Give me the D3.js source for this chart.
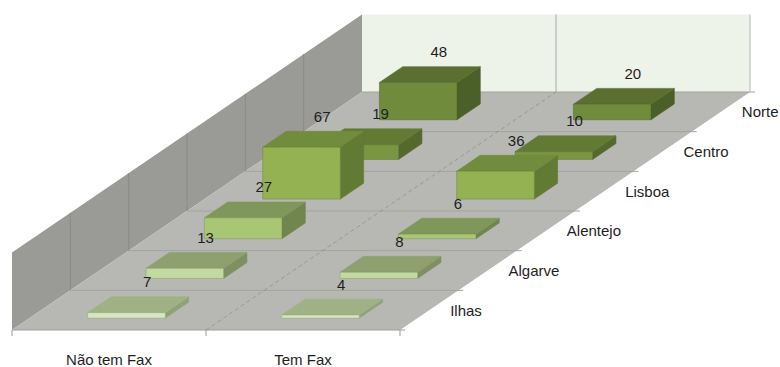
<!DOCTYPE html>
<html>
<head>
<meta charset="utf-8">
<script src="https://cdn.jsdelivr.net/npm/d3@7"></script>
<style>
  body { margin: 0; background: #fff; }
  text { font-family: "Liberation Sans", Arial, sans-serif; fill: #1e1e1e; }
</style>
</head>
<body>
<svg id="chart" width="780" height="367"></svg>
<script>
// Categories across the floor (front edge) and regions along the depth axis (front to back)
const columns = ["Não tem Fax", "Tem Fax"];
const regions = ["Ilhas", "Algarve", "Alentejo", "Lisboa", "Centro", "Norte"];

// Values per region, same order as `regions`
const naoTemFax = [7, 13, 27, 67, 19, 48];
const temFax    = [4, 8, 6, 36, 10, 20];

const valueDomain = [0, 100];

// Shades per region: front face, top face, right side face
const regionFront = ["#d6e6c2", "#c3d9a2", "#a9c674", "#94b251", "#7a9641", "#718b3d"];
const regionTop   = ["#a0b285", "#8fa070", "#7f975a", "#728c3d", "#637a35", "#5b7030"];
const regionSide  = ["#8fa276", "#7e9062", "#70864e", "#617a34", "#55692c", "#4b5f29"];

const svg = d3.select("#chart");

// Oblique 3D frame: front-left floor corner, floor width, depth vector, wall height
const origin = { x: 12, y: 330 };
const floorWidth = 388;
const depthVec = { x: 350, y: -238 };
const wallHeight = 77.5;

const colScale = d3.scaleBand().domain(columns).range([0, floorWidth]);
const barX = d3.scaleBand().domain(columns).range([0, floorWidth]).paddingInner(0.6).paddingOuter(0.3);
const slotScale = d3.scaleBand().domain(regions).range([0, 1]);
const barZ = d3.scaleBand().domain(regions).range([0, 1]).paddingInner(0.6).paddingOuter(0.3);
const hScale = d3.scaleLinear().domain(valueDomain).range([0, wallHeight]);

function proj(x, z, h) {
  return [origin.x + x + z * depthVec.x, origin.y + z * depthVec.y - h];
}
function poly(pts) {
  return pts.map(p => proj(p[0], p[1], p[2]).join(",")).join(" ");
}

// ---- Walls and floor ----
const frame = svg.append("g");

// back wall
frame.append("polygon")
  .attr("points", poly([[0, 1, 0], [floorWidth, 1, 0], [floorWidth, 1, wallHeight], [0, 1, wallHeight]]))
  .attr("fill", "#eef3e9");
// side wall
frame.append("polygon")
  .attr("points", poly([[0, 0, 0], [0, 1, 0], [0, 1, wallHeight], [0, 0, wallHeight]]))
  .attr("fill", "#9a9b97");
// floor
frame.append("polygon")
  .attr("points", poly([[0, 0, 0], [floorWidth, 0, 0], [floorWidth, 1, 0], [0, 1, 0]]))
  .attr("fill", "#b7b8b4");

// slot boundaries on the side wall and floor
const slotEdges = d3.range(0, regions.length + 1).map(i => i / regions.length);
slotEdges.forEach((z, i) => {
  if (i > 0 && i < regions.length) {
    const a = proj(0, z, 0), b = proj(0, z, wallHeight);
    frame.append("line").attr("x1", a[0]).attr("y1", a[1]).attr("x2", b[0]).attr("y2", b[1])
      .attr("stroke", "#8a8b87").attr("stroke-width", 1);
  }
  const a = proj(0, z, 0), b = proj(floorWidth, z, 0);
  frame.append("line").attr("x1", a[0]).attr("y1", a[1]).attr("x2", b[0] + 5).attr("y2", b[1])
    .attr("stroke", i === 0 ? "#9c9d99" : "#a2a39f").attr("stroke-width", 1);
});

// column boundaries: dashed line on the floor, solid line on the back wall
columns.slice(1).forEach(c => {
  const x = colScale(c);
  const a = proj(x, 0, 0), b = proj(x, 1, 0), t = proj(x, 1, wallHeight);
  frame.append("line").attr("x1", a[0]).attr("y1", a[1]).attr("x2", b[0]).attr("y2", b[1])
    .attr("stroke", "#8f908c").attr("stroke-width", 0.8).attr("stroke-dasharray", "4,3");
  frame.append("line").attr("x1", b[0]).attr("y1", b[1]).attr("x2", t[0]).attr("y2", t[1])
    .attr("stroke", "#a9aaa6").attr("stroke-width", 1);
});
// back wall right edge
{
  const b = proj(floorWidth, 1, 0), t = proj(floorWidth, 1, wallHeight);
  frame.append("line").attr("x1", b[0]).attr("y1", b[1]).attr("x2", t[0]).attr("y2", t[1])
    .attr("stroke", "#b9bab6").attr("stroke-width", 1);
}

// category ticks on the front edge
const tickXs = columns.map(c => colScale(c)).concat([floorWidth]);
tickXs.forEach(x => {
  const a = proj(x, 0, 0);
  frame.append("line").attr("x1", a[0]).attr("y1", a[1]).attr("x2", a[0]).attr("y2", a[1] + 6)
    .attr("stroke", "#9c9d99").attr("stroke-width", 1);
});

// ---- Bars (drawn back to front) ----
const bars = [];
regions.forEach((r, i) => {
  bars.push({ col: columns[0], region: r, ri: i, value: naoTemFax[i] });
  bars.push({ col: columns[1], region: r, ri: i, value: temFax[i] });
});
bars.sort((a, b) => b.ri - a.ri);

const barG = svg.append("g");
bars.forEach(d => {
  const x0 = barX(d.col), x1 = x0 + barX.bandwidth();
  const z0 = barZ(d.region), z1 = z0 + barZ.bandwidth();
  const h = hScale(d.value);
  const g = barG.append("g");
  g.append("polygon")
    .attr("points", poly([[x1, z0, 0], [x1, z1, 0], [x1, z1, h], [x1, z0, h]]))
    .attr("fill", regionSide[d.ri]).attr("stroke", regionSide[d.ri]).attr("stroke-width", 0.6);
  g.append("polygon")
    .attr("points", poly([[x0, z0, h], [x1, z0, h], [x1, z1, h], [x0, z1, h]]))
    .attr("fill", regionTop[d.ri]).attr("stroke", regionTop[d.ri]).attr("stroke-width", 0.6);
  g.append("polygon")
    .attr("points", poly([[x0, z0, 0], [x1, z0, 0], [x1, z0, h], [x0, z0, h]]))
    .attr("fill", regionFront[d.ri]).attr("stroke", regionSide[d.ri]).attr("stroke-width", 0.6)
    .attr("stroke-opacity", 0.7);
});

// ---- Data labels ----
const labelG = svg.append("g");
bars.forEach(d => {
  const cx = barX(d.col) + barX.bandwidth() / 2;
  const cz = barZ(d.region) + barZ.bandwidth() / 2;
  const p = proj(cx, cz, hScale(d.value));
  labelG.append("text")
    .attr("x", p[0] + 9).attr("y", p[1] - 23)
    .attr("text-anchor", "middle").attr("dominant-baseline", "central")
    .attr("font-size", 15)
    .text(d.value);
});

// ---- Axis labels ----
columns.forEach(c => {
  const p = proj(colScale(c) + colScale.bandwidth() / 2, 0, 0);
  svg.append("text")
    .attr("x", p[0]).attr("y", p[1] + 29)
    .attr("text-anchor", "middle").attr("dominant-baseline", "central")
    .attr("font-size", 15)
    .text(c);
});
regions.forEach(r => {
  const p = proj(floorWidth, slotScale(r) + slotScale.bandwidth() / 2, 0);
  svg.append("text")
    .attr("x", p[0] + 21).attr("y", p[1])
    .attr("text-anchor", "start").attr("dominant-baseline", "central")
    .attr("font-size", 15)
    .text(r);
});
</script>
</body>
</html>
